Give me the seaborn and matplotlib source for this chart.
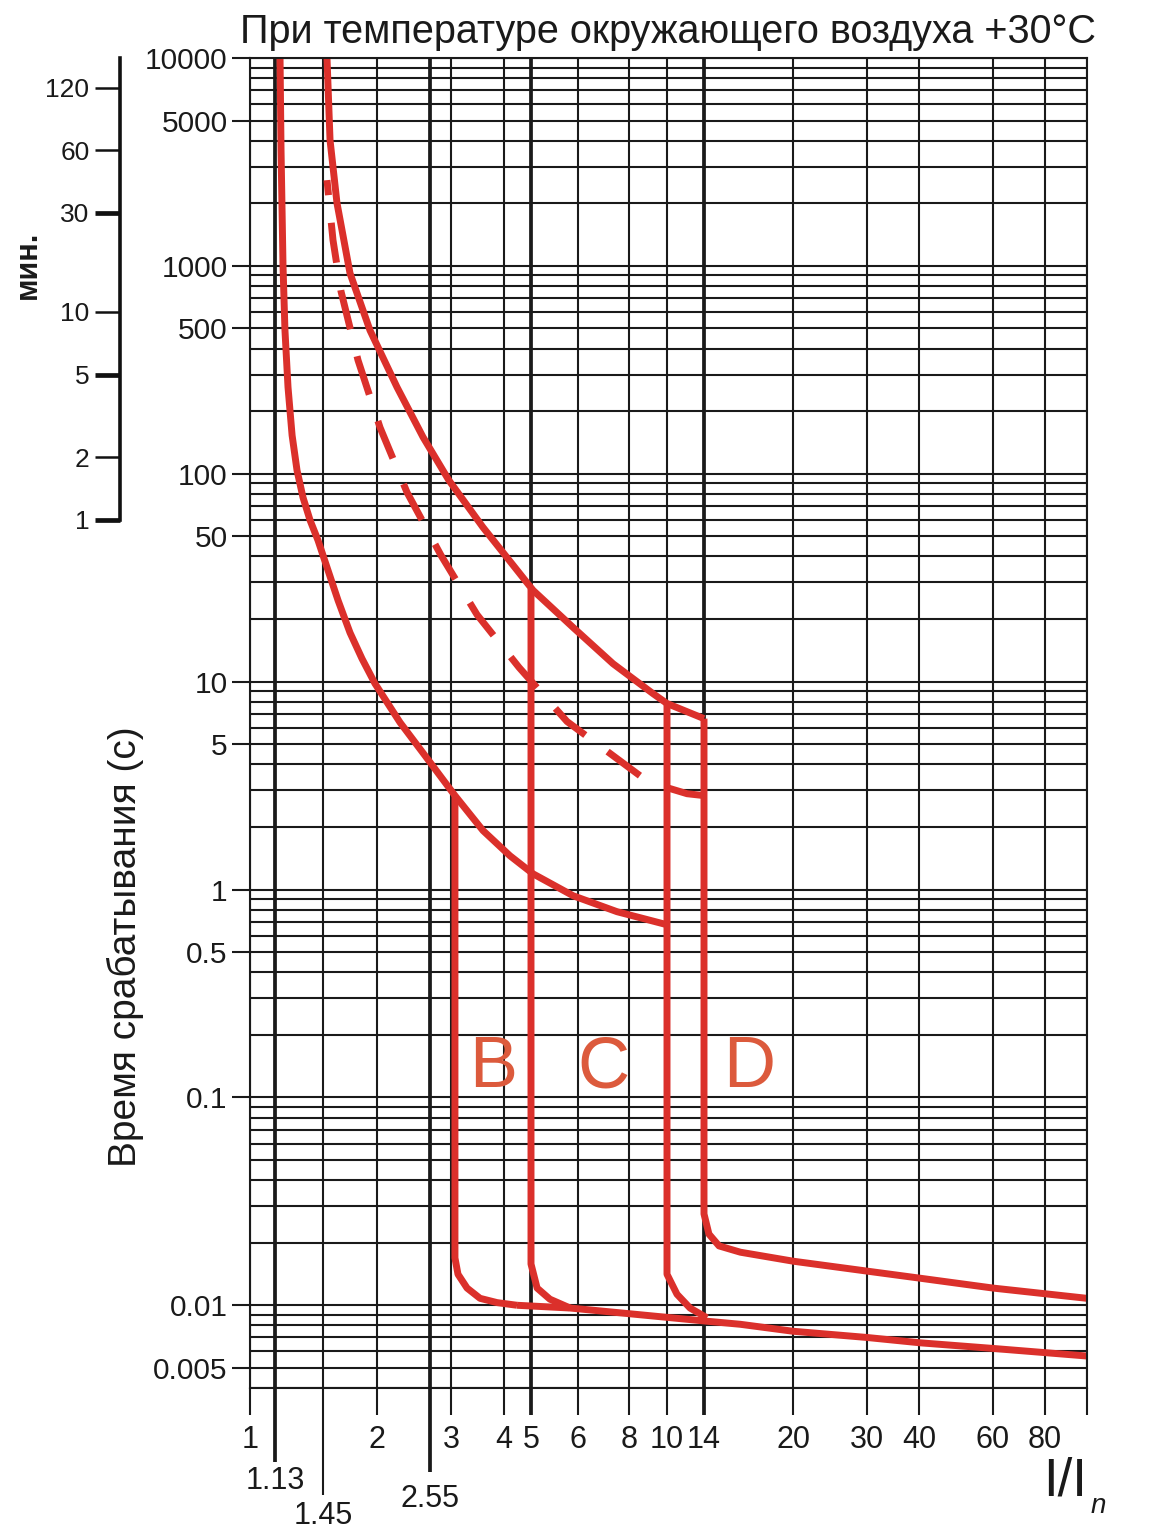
import numpy as np
import matplotlib
matplotlib.use("Agg")
import matplotlib.pyplot as plt
from matplotlib.ticker import LogLocator, NullLocator, NullFormatter
import seaborn as sns

# ---------------- data ----------------
title_text = "При температуре окружающего воздуха +30°C"
y_label_text = "Время срабатывания (с)"
min_label_text = "мин."

x_ticks = [1, 1.13, 1.45, 2, 2.55, 3, 4, 5, 6, 8, 10, 14, 20, 30, 40, 60, 80, 100]
x_tick_labels = ["1", "1.13", "1.45", "2", "2.55", "3", "4", "5", "6", "8",
                 "10", "14", "20", "30", "40", "60", "80", ""]
y_ticks = [10000, 5000, 1000, 500, 100, 50, 10, 5, 1, 0.5, 0.1, 0.01, 0.005]
y_tick_labels = ["10000", "5000", "1000", "500", "100", "50", "10", "5", "1",
                 "0.5", "0.1", "0.01", "0.005"]
min_ticks = [1, 2, 5, 10, 30, 60, 120]
min_tick_labels = ["1", "2", "5", "10", "30", "60", "120"]

# thermal release: lower (cold) boundary
lower_x = [1.160, 1.166, 1.178, 1.190, 1.209, 1.235, 1.267, 1.307, 1.356, 1.413,
           1.494, 1.586, 1.703, 1.829, 1.976, 2.223, 2.492, 3.065, 3.570, 4.20,
           5.04, 5.89, 7.48, 10.0]
lower_t = [10000, 3606, 1000, 490, 261, 153, 103.8, 76.9, 59.7, 47.8,
           34.3, 24.6, 17.2, 12.9, 9.79, 6.36, 4.41, 2.83, 1.92, 1.454,
           1.19, 0.933, 0.782, 0.677]
# thermal release: upper boundary
upper_x = [1.485, 1.512, 1.576, 1.703, 1.918, 2.192, 2.470, 2.953, 3.570, 5.04,
           5.89, 7.31, 9.21, 10.0, 14.0]
upper_t = [10000, 4029, 2004, 922, 490, 261, 150, 92.9, 55.2, 27.5,
           18.2, 12.2, 8.76, 7.85, 6.64]
# dashed intermediate curve (listed from its lower end upwards)
dashed_x = [8.53, 5.75, 4.53, 3.455, 2.777, 2.295, 2.028, 1.786, 1.614, 1.539, 1.485]
dashed_t = [3.53, 6.43, 11.7, 21.0, 40.5, 81.4, 167, 352, 755, 1330, 2585]
# magnetic release branches
b_x = [3.065, 3.065, 3.116, 3.273, 3.512, 3.852, 4.455]
b_t = [2.83, 0.0169, 0.0141, 0.0121, 0.0108, 0.0103, 0.0100]
c_x = [5.0, 5.0, 5.12, 5.38, 5.82]
c_t = [27.9, 0.0158, 0.0121, 0.0107, 0.0097]
cr_x = [10.0, 10.0, 10.95, 12.33, 14.17]
cr_t = [7.85, 0.0141, 0.0113, 0.0097, 0.0087]
d_x = [14.0, 14.0, 14.28, 14.87, 16.2, 20, 30, 40.2, 60, 100]
d_t = [6.64, 0.0275, 0.0220, 0.0193, 0.0180, 0.0163, 0.0146, 0.0135, 0.0121, 0.0108]
dlow_x = [10.0, 12.0, 14.0]
dlow_t = [3.09, 2.89, 2.83]
bottom_x = [4.455, 5.82, 8.05, 14.05, 16.2, 20, 30, 40.2, 60, 100]
bottom_t = [0.0100, 0.0097, 0.0091, 0.0084, 0.0081, 0.0075, 0.0070, 0.0066, 0.0062, 0.0057]

curve_letters = ["B", "C", "D"]

# ---------------- layout / scale definition ----------------
W, H = 1159, 1532
AX_L, AX_R, AX_T, AX_B = 250, 1087, 58, 1388
# the printed chart's (slightly schematic) logarithmic current axis:
# pixel column of every labelled grid line
x_grid_px = [250, 275, 323, 377, 430, 451, 504, 531, 578, 629, 667, 704,
             793, 867, 919, 993, 1045, 1087]
_LOGS = np.concatenate([[-2.0], np.log10(x_ticks), [4.0]])
_PX = np.concatenate([[x_grid_px[0] - 2 * 418.0], x_grid_px, [x_grid_px[-1] + 2 * 420.0]])


def _fwd(v):
    v = np.asarray(v, dtype=float)
    return np.interp(np.log10(np.clip(v, 1e-12, None)), _LOGS, _PX)


def _inv(p):
    return 10.0 ** np.interp(np.asarray(p, dtype=float), _PX, _LOGS)


# ---------------- style ----------------
sns.set_theme(style="white")
plt.rcParams["font.family"] = ["Liberation Sans", "DejaVu Sans"]
RED = "#db302b"
LETTER = "#dc5a3c"
GRID = "#1a1a1a"
LW = 5.0

fig = plt.figure(figsize=(W / 100, H / 100), dpi=100)
fig.patch.set_facecolor("white")
ax = fig.add_axes([AX_L / W, 1 - AX_B / H, (AX_R - AX_L) / W, (AX_B - AX_T) / H])
ax.set_facecolor("white")
ax.set_xscale("function", functions=(_fwd, _inv))
ax.set_yscale("log")
ax.set_xlim(1, 100)
ax.set_ylim(0.004, 10000)
ax.set_axisbelow(True)

# ---------------- curves ----------------
solid = dict(color=RED, linewidth=LW, solid_joinstyle="round",
             solid_capstyle="butt", sort=False, estimator=None, ax=ax, legend=False)
for xs, ts in [(lower_x, lower_t), (upper_x, upper_t), (b_x, b_t), (c_x, c_t),
               (cr_x, cr_t), (d_x, d_t), (dlow_x, dlow_t), (bottom_x, bottom_t)]:
    sns.lineplot(x=xs, y=ts, **solid)
sns.lineplot(x=dashed_x, y=dashed_t, color=RED, linewidth=LW, sort=False,
             estimator=None, ax=ax, legend=False,
             linestyle=(0, (5.8, 4.0)), dash_capstyle="butt")

# ---------------- axes / grid ----------------
ax.set_xticks(x_ticks)
ax.set_xticklabels(x_tick_labels)
ax.xaxis.set_minor_locator(NullLocator())
ax.set_yticks(y_ticks)
ax.set_yticklabels(y_tick_labels)
ax.yaxis.set_minor_locator(LogLocator(base=10, subs=(1, 2, 3, 4, 5, 6, 7, 8, 9), numticks=40))
ax.yaxis.set_minor_formatter(NullFormatter())

ax.grid(True, axis="x", which="major", color=GRID, linewidth=1.5)
ax.grid(True, axis="y", which="both", color=GRID, linewidth=1.5)

ax.tick_params(axis="x", which="major", direction="out", length=19.4, width=1.5,
               color=GRID, pad=7.5, labelsize=22, labelcolor="#1a1a1a", bottom=True)
ax.tick_params(axis="y", which="major", direction="out", length=13, width=1.5,
               color=GRID, pad=3, labelsize=21.5, labelcolor="#1a1a1a", left=True)
ax.tick_params(axis="y", which="minor", length=0)

for sp in ax.spines.values():
    sp.set_color(GRID)
    sp.set_linewidth(1.5)

special = {1.13: (53, 37), 1.45: (77, 62), 2.55: (60.5, 50)}
thick = (1.13, 2.55, 5, 14)
for tk, v in zip(ax.xaxis.get_major_ticks(), x_ticks):
    if v in special:
        L, P = special[v]
        tk.set_pad(P)
        tk.tick1line.set_markersize(L)
    if v in thick:
        tk.gridline.set_linewidth(2.7)
        tk.tick1line.set_markeredgewidth(2.7)

# ---------------- minutes axis ----------------
sec = ax.secondary_yaxis(-130 / (AX_R - AX_L),
                         functions=(lambda s: s / 60.0, lambda m: m * 60.0))
sec.set_yticks(min_ticks, labels=min_tick_labels)
sec.yaxis.set_minor_locator(NullLocator())
sec.tick_params(axis="y", which="major", direction="out", length=18, width=1.8,
                color="#111111", pad=4, labelsize=19, labelcolor="#1a1a1a")
sec.spines["left"].set_bounds(1, 10000 / 60)
sec.spines["left"].set_linewidth(2.6)
sec.spines["left"].set_color("#111111")
for tk, v in zip(sec.yaxis.get_major_ticks(), min_ticks):
    if v in (1, 5, 30):
        tk.tick1line.set_markeredgewidth(3.4)

# ---------------- texts ----------------
ax.set_title(title_text, fontsize=28.5, pad=11, color="#1a1a1a")
fig.text(125 / W, 1 - 947 / H, y_label_text, rotation=90, ha="center", va="center",
         fontsize=28, color="#1a1a1a")
fig.text(28 / W, 1 - 265 / H, min_label_text, rotation=90, ha="center", va="center",
         fontsize=22, fontweight="bold", color="#1a1a1a")
ax.text(1.0, -0.0805, "I/I", transform=ax.transAxes, ha="right", va="baseline",
        fontsize=38, color="#1a1a1a")
ax.text(1.004, -0.094, "n", transform=ax.transAxes, ha="left", va="baseline",
        fontsize=20, style="italic", color="#1a1a1a")

for letter, xpos in zip(curve_letters, [3.77, 6.91, 16.8]):
    ax.text(xpos, 0.137, letter, ha="center", va="center", fontsize=52,
            color=LETTER, zorder=5)

ax.set_xlabel("")
ax.set_ylabel("")
fig.savefig("out.png", dpi=100, facecolor="white")
